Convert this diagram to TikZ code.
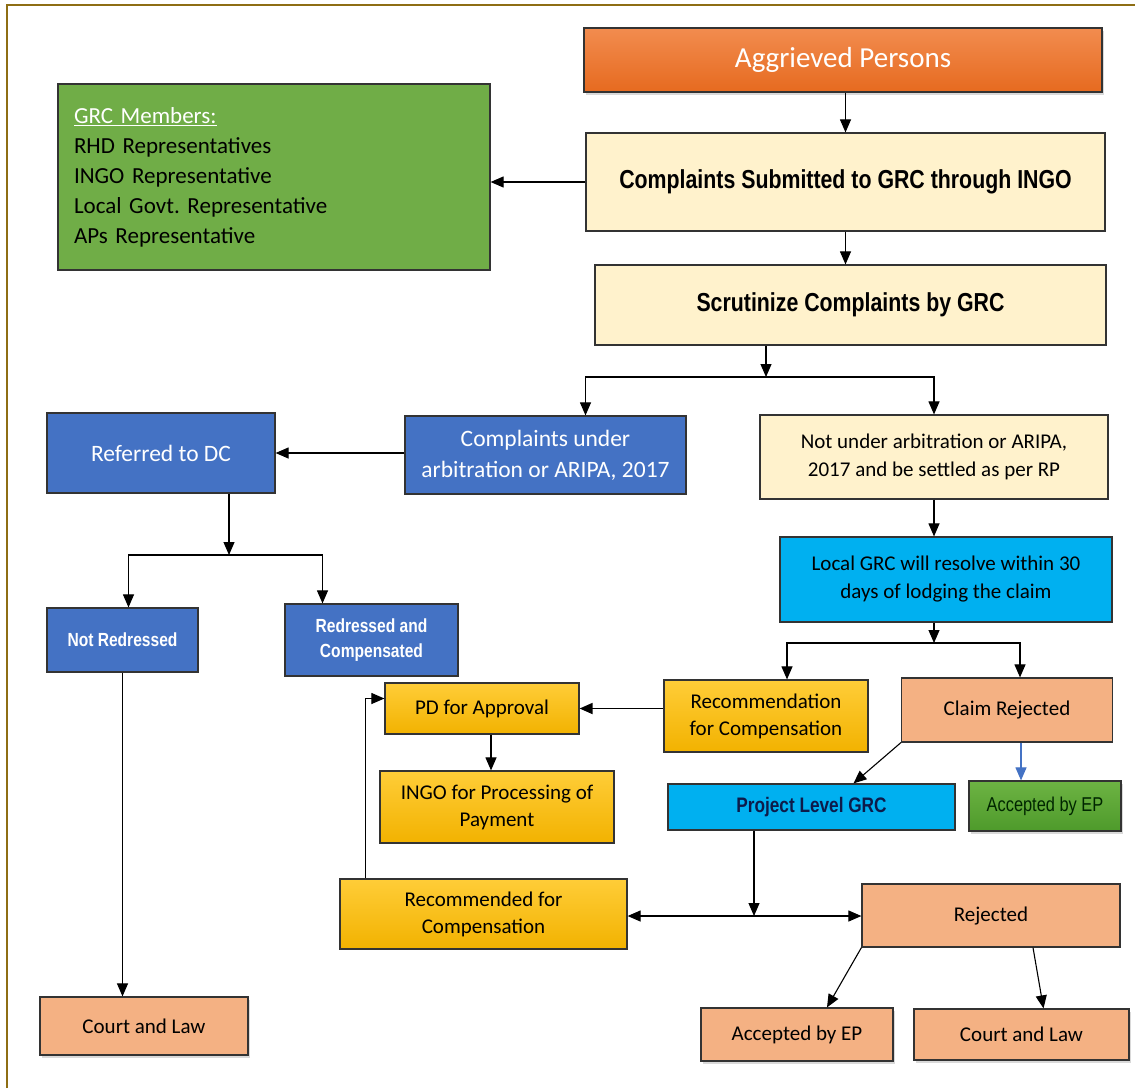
\documentclass[tikz,border=0pt]{standalone}
\usepackage{fontspec}
\setmainfont{Carlito}
\newfontfamily\narrowsans{Liberation Sans}[FakeStretch=0.82]
\usetikzlibrary{arrows.meta,positioning,shadows}
\frenchspacing

\definecolor{bordercol}{HTML}{8E6E14}
\definecolor{creamfill}{HTML}{FFF2CC}
\definecolor{bluefill}{HTML}{4472C4}
\definecolor{cyanfill}{HTML}{00B0F0}
\definecolor{greenfill}{HTML}{70AD47}
\definecolor{salmonfill}{HTML}{F4B183}
\definecolor{goldtop}{HTML}{FFCD38}
\definecolor{goldbot}{HTML}{F2B200}
\definecolor{orangetop}{HTML}{F28C4F}
\definecolor{orangebot}{HTML}{E66A1F}
\definecolor{leaftop}{HTML}{6DB343}
\definecolor{leafbot}{HTML}{4E9A2B}
\definecolor{navytext}{HTML}{0D1B4A}
\definecolor{arrowblue}{HTML}{4472C4}

\newcommand{\boxfont}[2]{\fontsize{#1}{#2}\selectfont}

\tikzset
{
    box/.style       = {draw=black!80, line width=1.2pt, align=center, inner sep=0pt},
    creambox/.style  = {box, fill=creamfill},
    bluebox/.style   = {box, fill=bluefill, text=white},
    cyanbox/.style   = {box, fill=cyanfill},
    goldbox/.style   = {box, top color=goldtop, bottom color=goldbot},
    salmonbox/.style = {box, fill=salmonfill},
    shade/.style     = {drop shadow={opacity=0.3, shadow xshift=2pt, shadow yshift=-3pt}},
    link/.style      = {->, line width=1.1pt}
}

\begin{document}
\begin{tikzpicture}
    [x=1pt, y=-1pt, >={Triangle[length=13pt,width=11pt]}]
    \useasboundingbox (0,0) rectangle (1135,1088);
    \draw[bordercol, line width=1.5pt] (7,1088) -- (7,5) -- (1135,5);

    % top part
    \node [box, shade, top color=orangetop, bottom color=orangebot, text=white,
           minimum width=518, minimum height=64, font=\boxfont{29}{34}] (aggr) at (843,60) {Aggrieved Persons};
    \node [box, fill=greenfill, minimum width=432, minimum height=186, text width=400, align=left,
           font=\boxfont{23}{30}] (members) at (274,177)
          {\textcolor{white}{\underline{GRC Members:}}\\RHD Representatives\\INGO Representative\\Local Govt. Representative\\APs Representative};
    \node [creambox, minimum width=519, minimum height=98, font=\narrowsans\bfseries\boxfont{26}{30}] (complaints) at (845.5,182)
          {Complaints Submitted to GRC through INGO};
    \node [creambox, minimum width=511, minimum height=80, font=\narrowsans\bfseries\boxfont{26}{30}] (scrut) at (850.5,305)
          {Scrutinize Complaints by GRC};

    % left branch
    \node [bluebox, minimum width=281, minimum height=78, font=\boxfont{23.5}{31}] (compunder) at (545.5,455)
          {Complaints under\\arbitration or ARIPA, 2017};
    \node [bluebox, minimum width=228, minimum height=80, font=\boxfont{23.5}{28}] (refdc) at (161,453) {Referred to DC};
    \node [bluebox, minimum width=151, minimum height=64, font=\narrowsans\bfseries\boxfont{19}{25}] (notred) at (122.5,640) {Not Redressed};
    \node [bluebox, minimum width=173, minimum height=72, font=\narrowsans\bfseries\boxfont{19}{25}] (redress) at (371.5,640)
          {Redressed and\\Compensated};
    \node [salmonbox, shade, minimum width=208, minimum height=58, font=\boxfont{21}{26}] (courtL) at (144,1026) {Court and Law};

    % right branch
    \node [creambox, minimum width=348, minimum height=84, font=\boxfont{21}{28}] (notunder) at (934,457)
          {Not under arbitration or ARIPA,\\2017 and be settled as per RP};
    \node [cyanbox, minimum width=332, minimum height=85, font=\boxfont{21}{28}] (localgrc) at (946,579.5)
          {Local GRC will resolve within 30\\days of lodging the claim};
    \node [goldbox, minimum width=204, minimum height=72, font=\boxfont{21}{27}] (recomm) at (766,716)
          {Recommendation\\for Compensation};
    \node [salmonbox, minimum width=211, minimum height=64, font=\boxfont{21}{26}] (claimrej) at (1007,710) {Claim Rejected};
    \node [goldbox, minimum width=194, minimum height=51, font=\boxfont{21}{26}] (pd) at (482,708.5) {PD for Approval};
    \node [goldbox, minimum width=234, minimum height=72, font=\boxfont{21}{27}] (ingo) at (497,807)
          {INGO for Processing of\\Payment};
    \node [cyanbox, minimum width=287, minimum height=46, text=navytext,
           font=\narrowsans\bfseries\boxfont{21}{26}] (plgrc) at (811.5,807) {Project Level GRC};
    \node [box, shade, top color=leaftop, bottom color=leafbot, text=black!85!green, minimum width=152, minimum height=50,
           font=\narrowsans\boxfont{20}{26}] (accgreen) at (1045,806) {Accepted by EP};
    \node [goldbox, minimum width=287, minimum height=70, font=\boxfont{21}{27}] (recd) at (483.5,914)
          {Recommended for\\Compensation};
    \node [salmonbox, minimum width=258, minimum height=63, font=\boxfont{21}{26}] (rejected) at (991,915.5) {Rejected};
    \node [salmonbox, shade, minimum width=192, minimum height=53, font=\boxfont{21}{26}] (accEP) at (797,1034.5) {Accepted by EP};
    \node [salmonbox, shade, minimum width=215, minimum height=51, font=\boxfont{21}{26}] (courtR) at (1021.5,1034.5) {Court and Law};

    % junctions
    \coordinate (split1) at (766,377);
    \coordinate (split2) at (229,555);
    \coordinate (split3) at (934,643);
    \coordinate (split4) at (754,916);

    % connectors
    \draw [link] (aggr.south -| complaints.north) -- (complaints.north);
    \draw [link] (complaints.west) -- (complaints.west -| members.east);
    \draw [link] (complaints.south) -- (complaints.south |- scrut.north);
    \draw [link] (scrut.south -| split1) -- (split1);
    \draw [link] (split1) -| ([xshift=40]compunder.north);
    \draw [link] (split1) -| (notunder.north);
    \draw [link] (compunder.west |- refdc.east) -- (refdc.east);
    \draw [link] (refdc.south -| split2) -- (split2);
    \draw [link] (split2) -| ([xshift=6]notred.north);
    \draw [link] (split2) -| ([xshift=-49]redress.north);
    \draw [link] (notred.south) -- (notred.south |- courtL.north);
    \draw [link] (notunder.south) -- (notunder.south |- localgrc.north);
    \draw [link] (localgrc.south -| split3) -- (split3);
    \draw [link] (split3) -| ([xshift=21]recomm.north);
    \draw [link] (split3) -| ([xshift=13]claimrej.north);
    \draw [link, line width=1.7pt] (recomm.west |- pd.east) -- (pd.east);
    \draw [link] ([xshift=9]pd.south) -- ([xshift=9]pd.south |- ingo.north);
    \draw [link] ([xshift=-118]recd.north) |- ([yshift=10]pd.west);
    \draw [link] (claimrej.south west) -- ([xshift=42]plgrc.north);
    \draw [link, arrowblue] ([xshift=14]claimrej.south) -- ([xshift=14]claimrej.south |- accgreen.north);
    \draw [link] (plgrc.south -| split4) -- (split4);
    \draw [link] (split4) -- (split4 -| recd.east);
    \draw [link] (split4) -- (split4 -| rejected.west);
    \draw [link] (rejected.south west) -- ([xshift=30]accEP.north);
    \draw [link] ([xshift=42]rejected.south) -- ([xshift=22]courtR.north);
\end{tikzpicture}
\end{document}
